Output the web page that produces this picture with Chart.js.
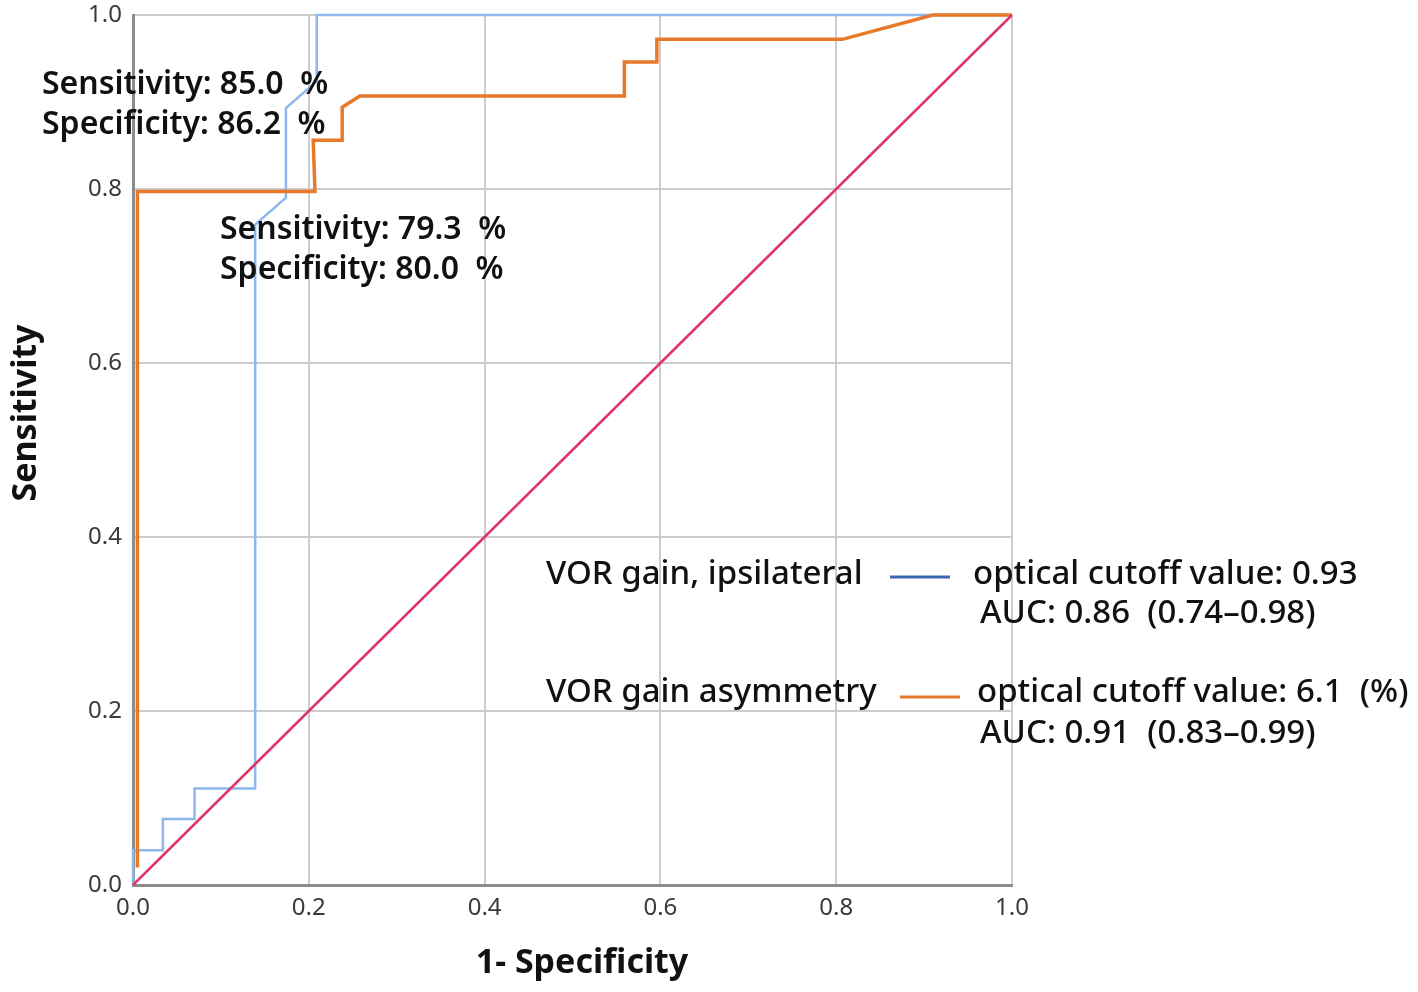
<!DOCTYPE html>
<html>
<head>
<meta charset="utf-8">
<script src="https://cdn.jsdelivr.net/npm/chart.js@4/dist/chart.umd.min.js"></script>
<style>
  html, body { margin: 0; padding: 0; background: #ffffff; }
  #wrap { width: 1418px; height: 992px; }
</style>
</head>
<body>
<div id="wrap"><canvas id="c" width="1418" height="992"></canvas></div>
<script>
// ---- data ----
const xTicks = [0, 0.2, 0.4, 0.6, 0.8, 1.0];
const yTicks = [0, 0.2, 0.4, 0.6, 0.8, 1.0];

const ipsiX = [0, 0, 0.034, 0.034, 0.070, 0.070, 0.139, 0.139, 0.174, 0.174, 0.209, 0.209, 1.0];
const ipsiY = [0, 0.040, 0.040, 0.076, 0.076, 0.111, 0.111, 0.759, 0.790, 0.893, 0.924, 1.0, 1.0];

const asymX = [0.005, 0.005, 0.207, 0.205, 0.238, 0.238, 0.258, 0.559, 0.559, 0.596, 0.596, 0.807, 0.910, 1.0];
const asymY = [0.020, 0.797, 0.797, 0.856, 0.856, 0.894, 0.907, 0.907, 0.946, 0.946, 0.972, 0.972, 1.0, 1.0];

const refX = [0, 1];
const refY = [0, 1];

const seriesNames = ["VOR gain, ipsilateral", "VOR gain asymmetry"];
const seriesCutoff = ["optical cutoff value: 0.93", "optical cutoff value: 6.1  (%)"];
const seriesAUC = ["AUC: 0.86  (0.74\u20130.98)", "AUC: 0.91  (0.83\u20130.99)"];
const annot1 = ["Sensitivity: 85.0  %", "Specificity: 86.2  %"];
const annot2 = ["Sensitivity: 79.3  %", "Specificity: 80.0  %"];
const xTitle = "1- Specificity";
const yTitle = "Sensitivity";

const toPts = (xs, ys) => xs.map((x, i) => ({ x: x, y: ys[i] }));

const FONT = "'Noto Sans', 'Open Sans', sans-serif";

const textPlugin = {
  id: 'texts',
  afterDraw(chart) {
    const ctx = chart.ctx;
    ctx.save();
    ctx.fillStyle = '#111';
    ctx.textBaseline = 'middle';
    ctx.textAlign = 'left';

    // annotations
    ctx.font = `600 32px ${FONT}`;
    ctx.fillText(annot1[0], 42, 85);
    ctx.fillText(annot1[1], 42, 125);
    ctx.fillText(annot2[0], 220, 230);
    ctx.fillText(annot2[1], 220, 270);

    // legend
    ctx.font = `500 33px ${FONT}`;
    ctx.fillText(seriesNames[0], 546, 575);
    ctx.fillText(seriesCutoff[0], 973, 575);
    ctx.fillText(seriesAUC[0], 980, 614);
    ctx.fillText(seriesNames[1], 546, 693);
    ctx.fillText(seriesCutoff[1], 977, 693);
    ctx.fillText(seriesAUC[1], 980, 734);

    ctx.lineWidth = 3;
    ctx.strokeStyle = '#3a68b4';
    ctx.beginPath(); ctx.moveTo(890, 577); ctx.lineTo(950, 577); ctx.stroke();
    ctx.strokeStyle = '#e8782a';
    ctx.beginPath(); ctx.moveTo(900, 697); ctx.lineTo(960, 697); ctx.stroke();

    // axis titles
    ctx.fillStyle = '#111';
    ctx.font = `bold 34px ${FONT}`;
    ctx.textAlign = 'center';
    ctx.fillText(xTitle, 582, 963);
    ctx.translate(26, 413);
    ctx.rotate(-Math.PI / 2);
    ctx.fillText(yTitle, 0, 0);
    ctx.restore();
  }
};

const tickFont = { family: FONT, size: 24 };

new Chart(document.getElementById('c'), {
  type: 'scatter',
  data: {
    datasets: [
      { label: 'Reference', data: toPts(refX, refY), showLine: true, borderColor: '#e0356a', borderWidth: 2.5, pointRadius: 0, clip: false },
      { label: seriesNames[1], data: toPts(asymX, asymY), showLine: true, borderColor: '#e8782a', borderWidth: 3.5, pointRadius: 0, clip: false },
      { label: seriesNames[0], data: toPts(ipsiX, ipsiY), showLine: true, borderColor: '#8cb8ec', borderWidth: 2.5, pointRadius: 0, clip: false }
    ]
  },
  options: {
    responsive: false,
    animation: false,
    devicePixelRatio: 1,
    layout: { padding: { left: 0, top: 15, right: 406, bottom: 0 } },
    plugins: { legend: { display: false }, tooltip: { enabled: false } },
    scales: {
      x: {
        type: 'linear', min: 0, max: 1,
        afterBuildTicks: s => { s.ticks = xTicks.map(v => ({ value: v })); },
        afterFit: s => { s.height = 107; s.paddingLeft = 0; s.paddingRight = 0; },
        ticks: { callback: v => v.toFixed(1), font: tickFont, color: '#3a3a3a', padding: 9, maxRotation: 0 },
        grid: { color: '#cccccc', lineWidth: 2, drawTicks: false },
        border: { color: '#8c8c8c', width: 3 }
      },
      y: {
        type: 'linear', min: 0, max: 1,
        afterBuildTicks: s => { s.ticks = yTicks.map(v => ({ value: v })); },
        afterFit: s => { s.width = 133; s.paddingTop = 0; s.paddingBottom = 0; },
        ticks: { callback: v => v.toFixed(1), font: tickFont, color: '#3a3a3a', padding: 11 },
        grid: { color: '#cccccc', lineWidth: 2, drawTicks: false },
        border: { color: '#8c8c8c', width: 3 }
      }
    }
  },
  plugins: [textPlugin]
});
</script>
</body>
</html>
